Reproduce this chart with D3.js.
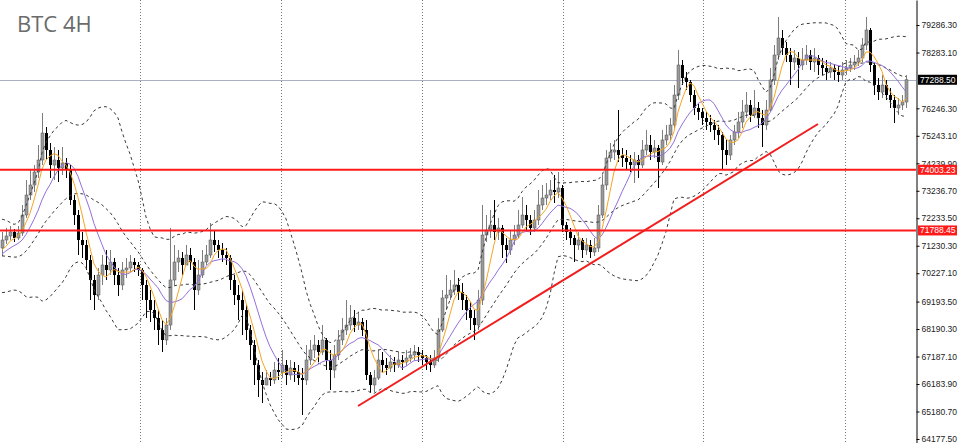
<!DOCTYPE html>
<html><head><meta charset="utf-8">
<script src="https://cdn.jsdelivr.net/npm/d3@7"></script>
<style>html,body{margin:0;padding:0;background:#fff;} svg{display:block;}</style>
</head><body><svg id="chart" width="960" height="443"></svg>
<script>
const title = "BTC 4H";
// closes of the 19 bars just before the visible window (only used to warm up the indicators)
const historyCloses = [71805, 72097, 71878, 71440, 70892, 70345, 69797, 69615, 69907, 70162, 70418, 70710, 70637, 70892, 71148, 71002, 70783, 71075, 71148];
const closes = [
71440, 71586, 71732, 71513, 71695, 72352, 73082, 73447, 73922, 74360,
75345, 74725, 74177, 74360, 74068, 74250, 73995, 72900, 72352, 71440,
71257, 70710, 69980, 69432, 70162, 70527, 70345, 70637, 70162, 69797,
70345, 70418, 70637, 70527, 70345, 69797, 69250, 68885, 68593, 68155,
67790, 68337, 69980, 70637, 70783, 70527, 70892, 70637, 69615, 70162,
70637, 70892, 71440, 71257, 71075, 70892, 70783, 69980, 69432, 69250,
68885, 68155, 67607, 66877, 66330, 66147, 66403, 66330, 66695, 66622,
66877, 66512, 66768, 66622, 66403, 66330, 67060, 67425, 67607, 67352,
67790, 67060, 66695, 67242, 67790, 68155, 68337, 68593, 68337, 68447,
68155, 66512, 66147, 66403, 67060, 66877, 66768, 66987, 66877, 67060,
66987, 67133, 67242, 67352, 67242, 67133, 66987, 66877, 67133, 68155,
69323, 69432, 69615, 69797, 69542, 69250, 68885, 68593, 68337, 69250,
71622, 71805, 71987, 71732, 71878, 71257, 71075, 71440, 71622, 71987,
72352, 72170, 71878, 72170, 72717, 72973, 73082, 73265, 73192, 73338,
71987, 71732, 71513, 71257, 71440, 71075, 71257, 71002, 71148, 72352,
73447, 74433, 74652, 74725, 74542, 74433, 74287, 74177, 74360, 74177,
74725, 74907, 74652, 74798, 74287, 75090, 75272, 75637, 76732, 77827,
77353, 77207, 76732, 76258, 76112, 75893, 75747, 75637, 75455, 75272,
74725, 74542, 75090, 75382, 75747, 76112, 76367, 76002, 76258, 75893,
75637, 76185, 77280, 78192, 78813, 78448, 78192, 77937, 78083, 77827,
78010, 78192, 77937, 78083, 77827, 77718, 77572, 77718, 77572, 77462,
77645, 77718, 77827, 77937, 78083, 78557, 79105, 77827, 77097, 76842,
77097, 76732, 76550, 76258, 76367, 76477, 77288.5];
const highs = [
71732, 71878, 71951, 71841, 71951, 72717, 73630, 73995, 74177, 74907,
76075, 75564, 74980, 74834, 74725, 74834, 74433, 74177, 73082, 72535,
71732, 71440, 70892, 70162, 70418, 70892, 71075, 71075, 70783, 70418,
70637, 70783, 70892, 70783, 70637, 70418, 69980, 69615, 69250, 68885,
68520, 68593, 71878, 71257, 71075, 71002, 71257, 71148, 70783, 70710,
71075, 71257, 72060, 71805, 71440, 71330, 71148, 70892, 70162, 69797,
69615, 69067, 68337, 67790, 67060, 66622, 66695, 66622, 66987, 67133,
67425, 67060, 67060, 66987, 66877, 66768, 67607, 67790, 67972, 67790,
68337, 67863, 67425, 67607, 68155, 68593, 69250, 69067, 68885, 68812,
68593, 68520, 66622, 66695, 67425, 67352, 67133, 67242, 67169, 67352,
67242, 67425, 67498, 67607, 67534, 67425, 67242, 67242, 67425, 68593,
69615, 70162, 69980, 70345, 70053, 69870, 69432, 69177, 68885, 69615,
72717, 72352, 72535, 72900, 72243, 71987, 71513, 71805, 71987, 72535,
73009, 72717, 72352, 72535, 73265, 73447, 73520, 73630, 73812, 73922,
73447, 72097, 71878, 71622, 71732, 71513, 71513, 71440, 71513, 72717,
73812, 74725, 74980, 75090, 76185, 74798, 74725, 74542, 74652, 74542,
75090, 75455, 75272, 75090, 74907, 75455, 75637, 75893, 77097, 78375,
78010, 77572, 77280, 76915, 76404, 76258, 76112, 76002, 75820, 75637,
75382, 75090, 75272, 75637, 76112, 76550, 76842, 76550, 76915, 76477,
76185, 76550, 77718, 78557, 79580, 79105, 78667, 78448, 78375, 78302,
78448, 78557, 78375, 78448, 78192, 78083, 78010, 77937, 77864, 77791,
77937, 78010, 78083, 78192, 78375, 78813, 79580, 79178, 77937, 77353,
77462, 77280, 76988, 76732, 76623, 76732, 77462];
const lows = [
70856, 71294, 71440, 71367, 71440, 71586, 72243, 72900, 73192, 73703,
74177, 74360, 73703, 73630, 73557, 73812, 73703, 72717, 71987, 70892,
70783, 70345, 69250, 68885, 69250, 69797, 69980, 70162, 69797, 69396,
69615, 70053, 70272, 70272, 70126, 69250, 68593, 68447, 68155, 67607,
67352, 67607, 68155, 69797, 70272, 70162, 70527, 70345, 68885, 69432,
70053, 70527, 70783, 71002, 70783, 70637, 70527, 69615, 69067, 68520,
67972, 67790, 67060, 66147, 65709, 65490, 66147, 66111, 66184, 66330,
66403, 66147, 66330, 66257, 66147, 65052, 66147, 66877, 67133, 66987,
67242, 66695, 65965, 66403, 67060, 67607, 67972, 68155, 68082, 68155,
67936, 66330, 65855, 65892, 66330, 66622, 66512, 66622, 66622, 66768,
66695, 66841, 66987, 67060, 66987, 66877, 66695, 66622, 66768, 66987,
68082, 68885, 69250, 69432, 69250, 68885, 68520, 68155, 67790, 68155,
69067, 71367, 71513, 71440, 71440, 70783, 70600, 70892, 71257, 71513,
71878, 71805, 71622, 71732, 71987, 72535, 72717, 72900, 72790, 72973,
71732, 71440, 71257, 70637, 71075, 70783, 70892, 70783, 70856, 71002,
72243, 73265, 74287, 74360, 74287, 74104, 73995, 73922, 73520, 73703,
74068, 74542, 74360, 74433, 73338, 74177, 74907, 75090, 75528, 76550,
77097, 76915, 76477, 76002, 75820, 75637, 75455, 75382, 75090, 74907,
73995, 74177, 74360, 74907, 75163, 75528, 75893, 75747, 75893, 75528,
74834, 75455, 76112, 77097, 78010, 78192, 77937, 77097, 77645, 76988,
77645, 77827, 77645, 77572, 77462, 77462, 77280, 77353, 77280, 77207,
77280, 77462, 77572, 77645, 77791, 77937, 78375, 77572, 76732, 76550,
76623, 76550, 76258, 75710, 76002, 76185, 76258];
const levels = [74003.23, 71788.45];
const lastPrice = 77288.50;
const tickLabels = [79286.30, 78283.10, 76246.30, 75243.10, 74239.90, 73236.70, 72233.50, 71230.30, 70227.10, 69193.50, 68190.30, 67187.10, 66183.90, 65180.70, 64177.50];
const gridBars = [34.5, 69.75, 105, 140.25, 175.25, 210.75];
const trendBars = [89, 204];
const trendPrices = [65381, 75674];
const maFast = 5, maSlow = 10, bbPeriod = 20, bbDev = 2;

const W = 960, H = 443, plotRight = 916;
const svg = d3.select("#chart");
svg.append("rect").attr("width", W).attr("height", H).attr("fill", "#fff");
const x = d3.scaleLinear().domain([0, closes.length - 1]).range([2, 906]);
const y = d3.scaleLinear().domain([64030.5, 80200]).range([H, 0]);

svg.append("defs").append("clipPath").attr("id", "plot")
  .append("rect").attr("x", 0).attr("y", 0).attr("width", plotRight).attr("height", H);
const g = svg.append("g").attr("clip-path", "url(#plot)");

// vertical grid
g.selectAll("line.grid").data(gridBars).join("line")
  .attr("x1", d => Math.round(x(d)) + 0.5).attr("x2", d => Math.round(x(d)) + 0.5)
  .attr("y1", 0).attr("y2", H)
  .attr("stroke", "#777").attr("stroke-width", 1).attr("stroke-dasharray", "1,2");

// title
svg.append("text").attr("x", 17).attr("y", 32).text(title)
  .attr("font-family", "'Open Sans', 'Noto Sans', sans-serif").attr("font-size", 22)
  .attr("fill", "#6b6b6b");

// bid line
g.append("line").attr("x1", 0).attr("x2", plotRight)
  .attr("y1", Math.round(y(lastPrice)) + 0.5).attr("y2", Math.round(y(lastPrice)) + 0.5)
  .attr("stroke", "#aab0c4").attr("stroke-width", 1);

// candles
const all = historyCloses.concat(closes);
const off = historyCloses.length;
const bars = closes.map((c, i) => {
  const o = all[off + i - 1];
  return { i, o, c, h: Math.max(highs[i], o, c), l: Math.min(lows[i], o, c) };
});
const up = "#7d7d7d", dn = "#000";
const cg = g.append("g");
cg.selectAll("line.wick").data(bars).join("line")
  .attr("x1", d => Math.round(x(d.i)) + 0.5).attr("x2", d => Math.round(x(d.i)) + 0.5)
  .attr("y1", d => y(d.h)).attr("y2", d => y(d.l))
  .attr("stroke", d => d.c >= d.o ? up : dn).attr("stroke-width", 1);
cg.selectAll("rect.body").data(bars).join("rect")
  .attr("x", d => Math.round(x(d.i)) - 1).attr("width", 3)
  .attr("y", d => y(Math.max(d.o, d.c)))
  .attr("height", d => Math.max(1, Math.abs(y(d.o) - y(d.c))))
  .attr("fill", d => d.c >= d.o ? "#9a9a9a" : dn)
  .attr("stroke", d => d.c >= d.o ? "#555" : "none").attr("stroke-width", 0.5);

// indicators
function sma(n, k) { let s = 0; for (let j = k - n + 1; j <= k; j++) s += all[j]; return s / n; }
const ind = closes.map((c, i) => {
  const k = off + i;
  const start = Math.max(0, k - bbPeriod + 1), n = k - start + 1;
  let s = 0; for (let j = start; j <= k; j++) s += all[j];
  const m = s / n;
  let v = 0; for (let j = start; j <= k; j++) v += (all[j] - m) ** 2;
  const sd = Math.sqrt(v / n);
  return { i, fast: sma(maFast, k), slow: sma(maSlow, k), mid: m, upB: m + bbDev * sd, loB: m - bbDev * sd };
});
const line = key => d3.line().x(d => x(d.i)).y(d => y(d[key])).curve(d3.curveLinear)(ind);
["upB", "mid", "loB"].forEach(k => {
  g.append("path").attr("d", line(k)).attr("fill", "none")
    .attr("stroke", "#3a3a3a").attr("stroke-width", 1).attr("stroke-dasharray", "3,3");
});
g.append("path").attr("d", line("slow")).attr("fill", "none").attr("stroke", "#9370DB").attr("stroke-width", 1);
g.append("path").attr("d", line("fast")).attr("fill", "none").attr("stroke", "#F5A623").attr("stroke-width", 1);

// horizontal levels
g.selectAll("line.level").data(levels).join("line")
  .attr("x1", 0).attr("x2", plotRight).attr("y1", d => y(d)).attr("y2", d => y(d))
  .attr("stroke", "#ff1a1a").attr("stroke-width", 2);

// trendline
g.append("line")
  .attr("x1", x(trendBars[0])).attr("y1", y(trendPrices[0]))
  .attr("x2", x(trendBars[1])).attr("y2", y(trendPrices[1]))
  .attr("stroke", "#f21d1d").attr("stroke-width", 2);

// price axis
const axis = d3.axisRight(y).tickValues(tickLabels).tickSize(3).tickSizeOuter(0).tickPadding(2)
  .tickFormat(d3.format(".2f"));
const ag = svg.append("g").attr("transform", `translate(${plotRight + 0.5},0)`).call(axis);
ag.select(".domain").attr("stroke", "#000");
ag.selectAll(".tick line").attr("stroke", "#000");
ag.selectAll(".tick text").attr("font-family", "'Liberation Sans', Arial, sans-serif")
  .attr("font-size", 8.5).attr("fill", "#222");

// price tags
const tags = [{ v: lastPrice, bg: "#000" }].concat(levels.map(v => ({ v, bg: "#ff1a1a" })));
const tg = svg.append("g");
tags.forEach(t => {
  const yy = y(t.v);
  tg.append("rect").attr("x", 918).attr("y", yy - 5).attr("width", 39).attr("height", 10).attr("fill", t.bg);
  tg.append("text").attr("x", 920).attr("y", yy + 3).text(d3.format(".2f")(t.v))
    .attr("font-family", "'Liberation Sans', Arial, sans-serif").attr("font-size", 8.5).attr("fill", "#fff");
});
</script></body></html>
